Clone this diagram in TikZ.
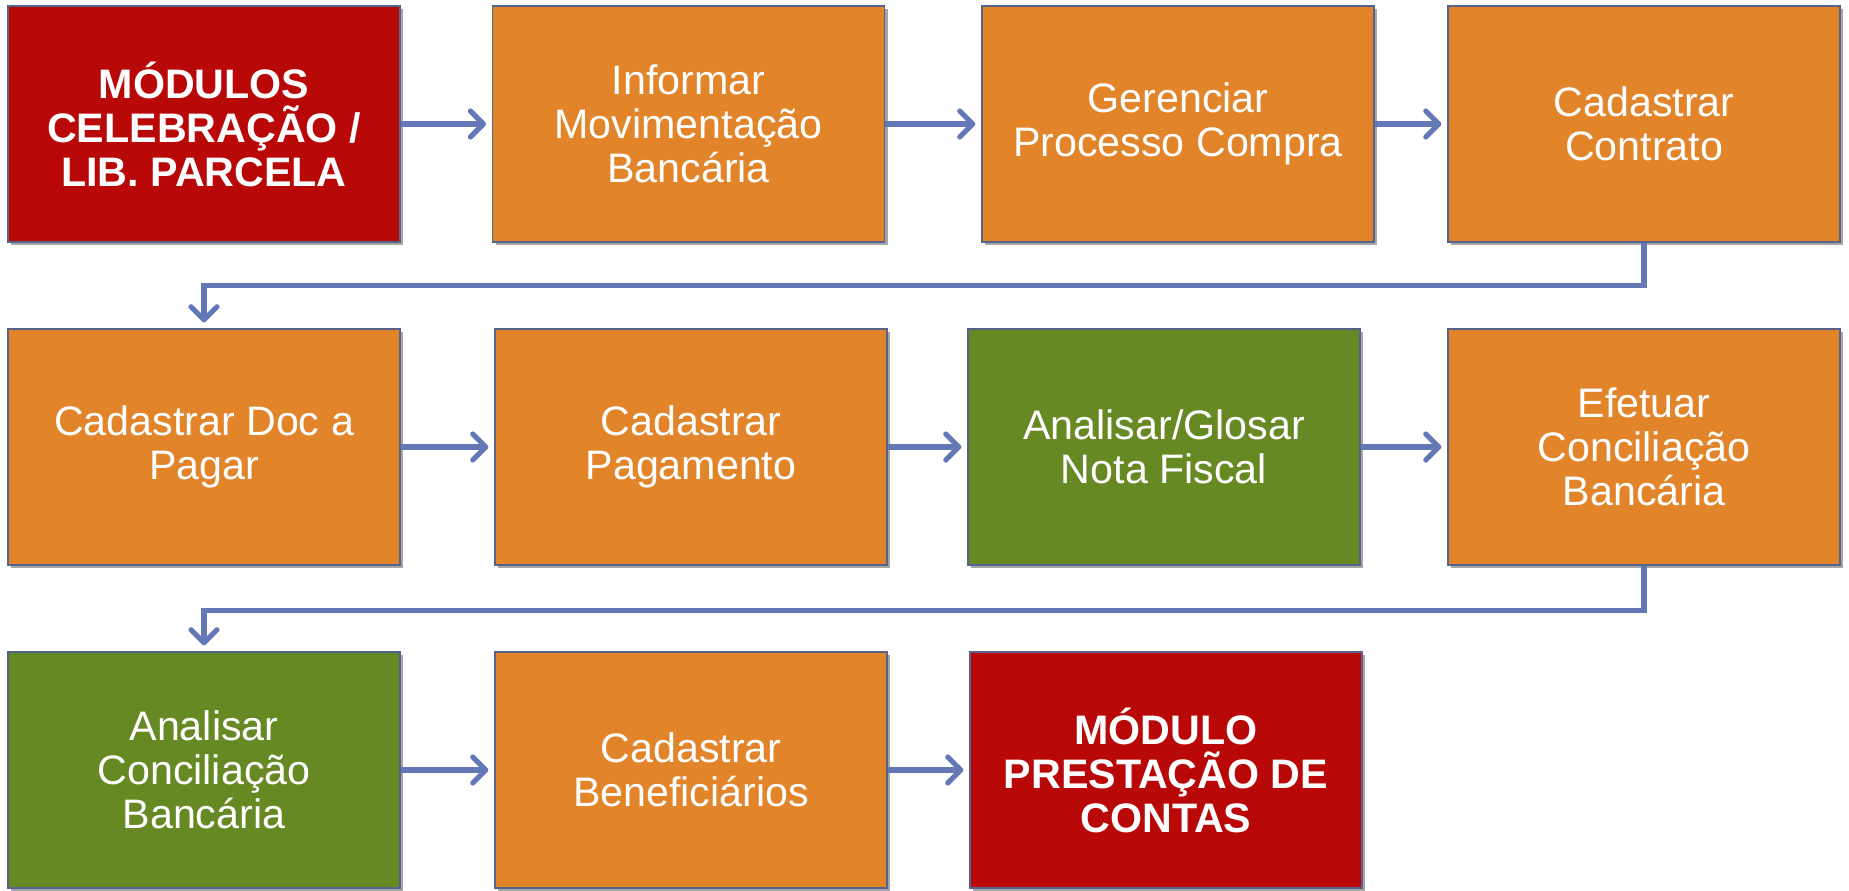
\documentclass[tikz,border=0pt]{standalone}
\usepackage{fontspec}
\setmainfont{Liberation Sans}
\usepackage{tikz}
\usetikzlibrary{positioning, arrows.meta, shadows}
\definecolor{boxred}{HTML}{B90808}
\definecolor{boxorange}{HTML}{E1842A}
\definecolor{boxgreen}{HTML}{678923}
\definecolor{boxline}{HTML}{56648C}
\definecolor{flowblue}{HTML}{6477B6}
\tikzset{
    >={Straight Barb[length=6.5pt,width=13pt,round]}, % open arrow heads
    node distance=240pt, % distance between two box centres in a row
    proc/.style={rectangle, draw=boxline, line width=0.6pt, minimum width=196pt, minimum height=118pt,
        text=white, align=center, font=\fontsize{20.6}{22}\selectfont,
        drop shadow={shadow xshift=1.5pt, shadow yshift=-1.5pt, opacity=0.35, fill=black}}, % every box
    todo/.style={proc, fill=boxorange},
    check/.style={proc, fill=boxgreen},
    module/.style={proc, fill=boxred, font=\fontsize{20.6}{22}\selectfont\bfseries},
    flow/.style={->, draw=flowblue, line width=2.6pt, shorten >=3pt}, % the blue connectors
}
\begin{document}
\begin{tikzpicture}
        \useasboundingbox (0,0) rectangle (924.5pt,-445pt);
        % Boxes, row by row
        % \node[<style>, right of=<node>] (name) {text};
        \node[module] (CELEB) at (102pt,-62pt) {MÓDULOS\\CELEBRAÇÃO /\\LIB. PARCELA};
        \node[todo, right of=CELEB, xshift=2.3pt]     (INF_MOV)   {Informar\\Movimentação\\Bancária};
        \node[todo, right of=INF_MOV, xshift=4.7pt]   (GER_PROC)  {Gerenciar\\Processo Compra};
        \node[todo, right of=GER_PROC, xshift=-7pt]   (CAD_CONTR) {Cadastrar\\Contrato};

        \node[todo, below of=CELEB, node distance=161.5pt] (CAD_DOC) {Cadastrar Doc a\\Pagar};
        \node[todo, right of=CAD_DOC, xshift=3.5pt]   (CAD_PAG)   {Cadastrar\\Pagamento};
        \node[check, right of=CAD_PAG, xshift=-3.5pt] (ANL_NF)    {Analisar/Glosar\\Nota Fiscal};
        \node[todo, right of=ANL_NF]                  (EF_CONC)   {Efetuar\\Conciliação\\Bancária};

        \node[check, below of=CAD_DOC, node distance=161.5pt] (ANL_CONC) {Analisar\\Conciliação\\Bancária};
        \node[todo, right of=ANL_CONC, xshift=3.5pt]  (CAD_BEN)   {Cadastrar\\Beneficiários};
        \node[module, right of=CAD_BEN, xshift=-2.5pt] (PREST)    {MÓDULO\\PRESTAÇÃO DE\\CONTAS};

        % draw Edges
        \draw[flow] (CELEB)   edge[] (INF_MOV)
                    (INF_MOV) edge[] (GER_PROC)
                    (GER_PROC) edge[] (CAD_CONTR)
                    (CAD_DOC) edge[] (CAD_PAG)
                    (CAD_PAG) edge[] (ANL_NF)
                    (ANL_NF)  edge[] (EF_CONC)
                    (ANL_CONC) edge[] (CAD_BEN)
                    (CAD_BEN) edge[] (PREST);
        % row changes
        \draw[flow] (CAD_CONTR.south) -- ++(0,-21.5pt) -| (CAD_DOC.north);
        \draw[flow] (EF_CONC.south) -- ++(0,-22.5pt) -| (ANL_CONC.north);
\end{tikzpicture}
\end{document}
